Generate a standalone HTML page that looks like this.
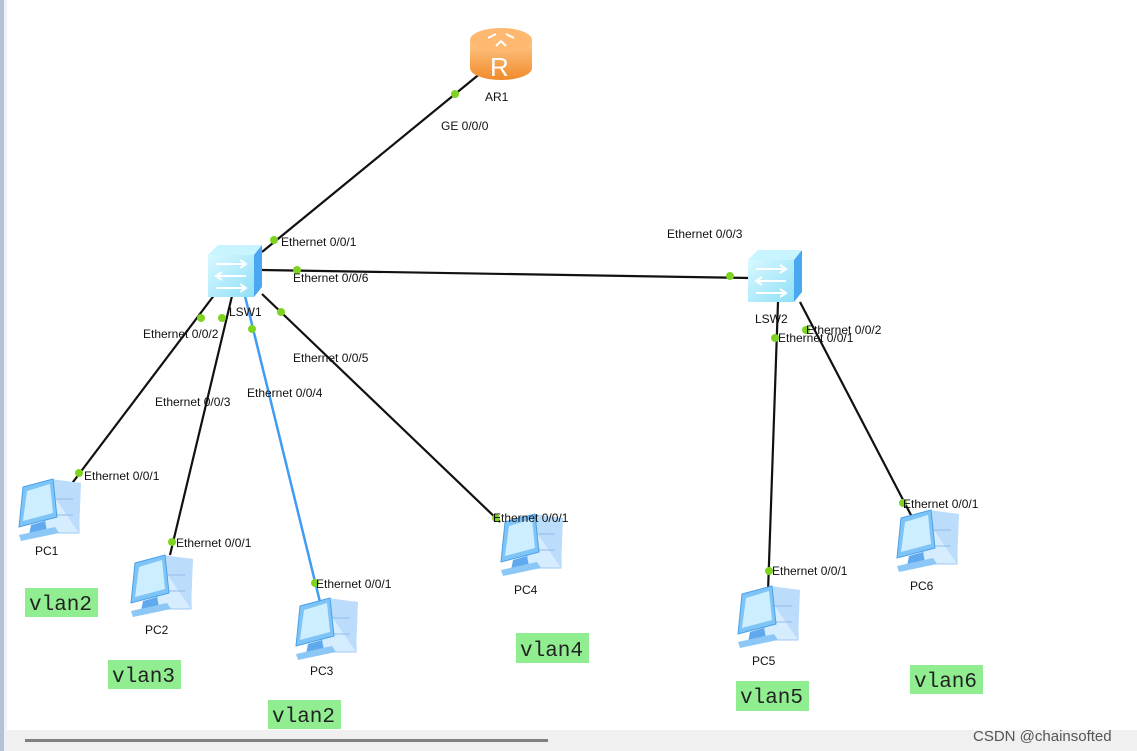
<!DOCTYPE html>
<html><head><meta charset="utf-8"><style>
html,body{margin:0;padding:0;background:#fff;}
svg{display:block;}
text{font-family:"Liberation Sans",sans-serif;font-size:12px;fill:#111;}
.v{font-family:"Liberation Mono","DejaVu Sans Mono",monospace;font-size:21px;fill:#222;}
</style></head><body>
<svg width="1137" height="751" viewBox="0 0 1137 751" xmlns="http://www.w3.org/2000/svg">
<defs>
<linearGradient id="rg" x1="0" y1="0" x2="0" y2="1"><stop offset="0" stop-color="#ffc98a"/><stop offset="1" stop-color="#f08a2a"/></linearGradient>
<linearGradient id="sg" x1="0" y1="0" x2="1" y2="1"><stop offset="0" stop-color="#d8f8ff"/><stop offset="1" stop-color="#8fe0f8"/></linearGradient>
<g id="pc">
  <rect x="30" y="4" width="34" height="50" fill="#d6ecff" stroke="#9cc8f0"/>
  <polygon points="30,4 36,0 66,4 64,54" fill="#bcdcfb"/>
  <line x1="40" y1="20" x2="58" y2="20" stroke="#8fbdeb"/>
  <line x1="40" y1="36" x2="58" y2="36" stroke="#8fbdeb"/>
  <polygon points="8,8 38,0 42,38 4,48" fill="#7ec4f6" stroke="#4aa0ea"/>
  <polygon points="12,12 35,5 38,34 8,42" fill="#cdeeff"/>
  <polygon points="16,46 30,42 32,52 14,56" fill="#5fa9ee"/>
  <polygon points="4,56 40,48 44,54 6,62" fill="#8cc7f6"/>
</g>
<g id="sw">
  <polygon points="0,10 10,0 54,0 46,10" fill="#c8f4ff"/>
  <rect x="0" y="10" width="46" height="42" fill="url(#sg)"/>
  <polygon points="46,10 54,0 54,42 46,52" fill="#4aa8f0"/>
  <g stroke="#fff" stroke-width="2" fill="none">
    <path d="M8 19 H38 M32 15 L38 19 L32 23"/>
    <path d="M38 31 H8 M14 27 L8 31 L14 35"/>
    <path d="M8 43 H38 M32 39 L38 43 L32 47"/>
  </g>
</g>
</defs>
<rect x="0" y="0" width="4" height="751" fill="#b4c2d6"/>
<rect x="4" y="0" width="3" height="751" fill="#eef1f5"/>
<!-- links -->
<g stroke="#111" stroke-width="2.2">
<line x1="482" y1="72" x2="262" y2="252"/>
<line x1="262" y1="270" x2="750" y2="278"/>
<line x1="215" y1="294" x2="70" y2="486"/>
<line x1="232" y1="296" x2="170" y2="555"/>
<line x1="262" y1="294" x2="500" y2="522"/>
<line x1="778" y1="302" x2="768" y2="592"/>
<line x1="800" y1="302" x2="912" y2="517"/>
</g>
<line x1="245" y1="296" x2="320" y2="602" stroke="#3f9cf2" stroke-width="2.5"/>
<!-- router -->
<g>
<path d="M470 40 v28 a31 12 0 0 0 62 0 v-28 z" fill="url(#rg)"/>
<ellipse cx="501" cy="40" rx="31" ry="12" fill="#ffb870"/>
<text x="490" y="76" style="font-size:26px;fill:#fff;font-family:'Liberation Sans',sans-serif">R</text>
<path d="M488 38 l8 -4 M514 38 l-8 -4 M496 46 l5 -5 l5 5" stroke="#fff" stroke-width="2" fill="none"/>
</g>
<use href="#sw" x="208" y="245"/>
<use href="#sw" x="748" y="250"/>
<use href="#pc" x="15" y="479"/>
<use href="#pc" x="127" y="555"/>
<use href="#pc" x="292" y="598"/>
<use href="#pc" x="497" y="514"/>
<use href="#pc" x="734" y="586"/>
<use href="#pc" x="893" y="510"/>
<!-- dots -->
<g fill="#7ed321">
<circle cx="455" cy="94" r="4"/><circle cx="274" cy="240" r="4"/>
<circle cx="297" cy="270" r="4"/><circle cx="730" cy="276" r="4"/>
<circle cx="201" cy="318" r="4"/><circle cx="79" cy="473" r="4"/>
<circle cx="222" cy="318" r="4"/><circle cx="172" cy="542" r="4"/>
<circle cx="252" cy="329" r="4"/><circle cx="315" cy="583" r="4"/>
<circle cx="281" cy="312" r="4"/><circle cx="496" cy="518" r="4"/>
<circle cx="775" cy="338" r="4"/><circle cx="769" cy="571" r="4"/>
<circle cx="806" cy="330" r="4"/><circle cx="903" cy="503" r="4"/>
</g>
<!-- labels -->
<text x="485" y="101">AR1</text>
<text x="441" y="130">GE 0/0/0</text>
<text x="281" y="246">Ethernet 0/0/1</text>
<text x="293" y="282">Ethernet 0/0/6</text>
<text x="667" y="238">Ethernet 0/0/3</text>
<text x="229" y="316">LSW1</text>
<text x="755" y="323">LSW2</text>
<text x="143" y="338">Ethernet 0/0/2</text>
<text x="293" y="362">Ethernet 0/0/5</text>
<text x="155" y="406">Ethernet 0/0/3</text>
<text x="247" y="397">Ethernet 0/0/4</text>
<text x="806" y="334">Ethernet 0/0/2</text>
<text x="778" y="342">Ethernet 0/0/1</text>
<text x="84" y="480">Ethernet 0/0/1</text>
<text x="176" y="547">Ethernet 0/0/1</text>
<text x="316" y="588">Ethernet 0/0/1</text>
<text x="493" y="522">Ethernet 0/0/1</text>
<text x="772" y="575">Ethernet 0/0/1</text>
<text x="903" y="508">Ethernet 0/0/1</text>
<text x="35" y="555">PC1</text>
<text x="145" y="634">PC2</text>
<text x="310" y="675">PC3</text>
<text x="514" y="594">PC4</text>
<text x="752" y="665">PC5</text>
<text x="910" y="590">PC6</text>
<!-- vlan tags -->
<g fill="#90ee90">
<rect x="25" y="588" width="73" height="29"/>
<rect x="108" y="660" width="73" height="29"/>
<rect x="268" y="700" width="73" height="29"/>
<rect x="516" y="633" width="73" height="30"/>
<rect x="736" y="681" width="73" height="30"/>
<rect x="910" y="665" width="73" height="29"/>
</g>
<text class="v" x="29" y="610">vlan2</text>
<text class="v" x="112" y="682">vlan3</text>
<text class="v" x="272" y="722">vlan2</text>
<text class="v" x="520" y="656">vlan4</text>
<text class="v" x="740" y="703">vlan5</text>
<text class="v" x="914" y="687">vlan6</text>
<!-- bottom bar -->
<rect x="7" y="730" width="1130" height="21" fill="#f0f0f0"/>
<rect x="25" y="739" width="523" height="3" fill="#808080"/>
<text x="973" y="741" style="font-size:15px;fill:#555">CSDN @chainsofted</text>
</svg>
</body></html>
